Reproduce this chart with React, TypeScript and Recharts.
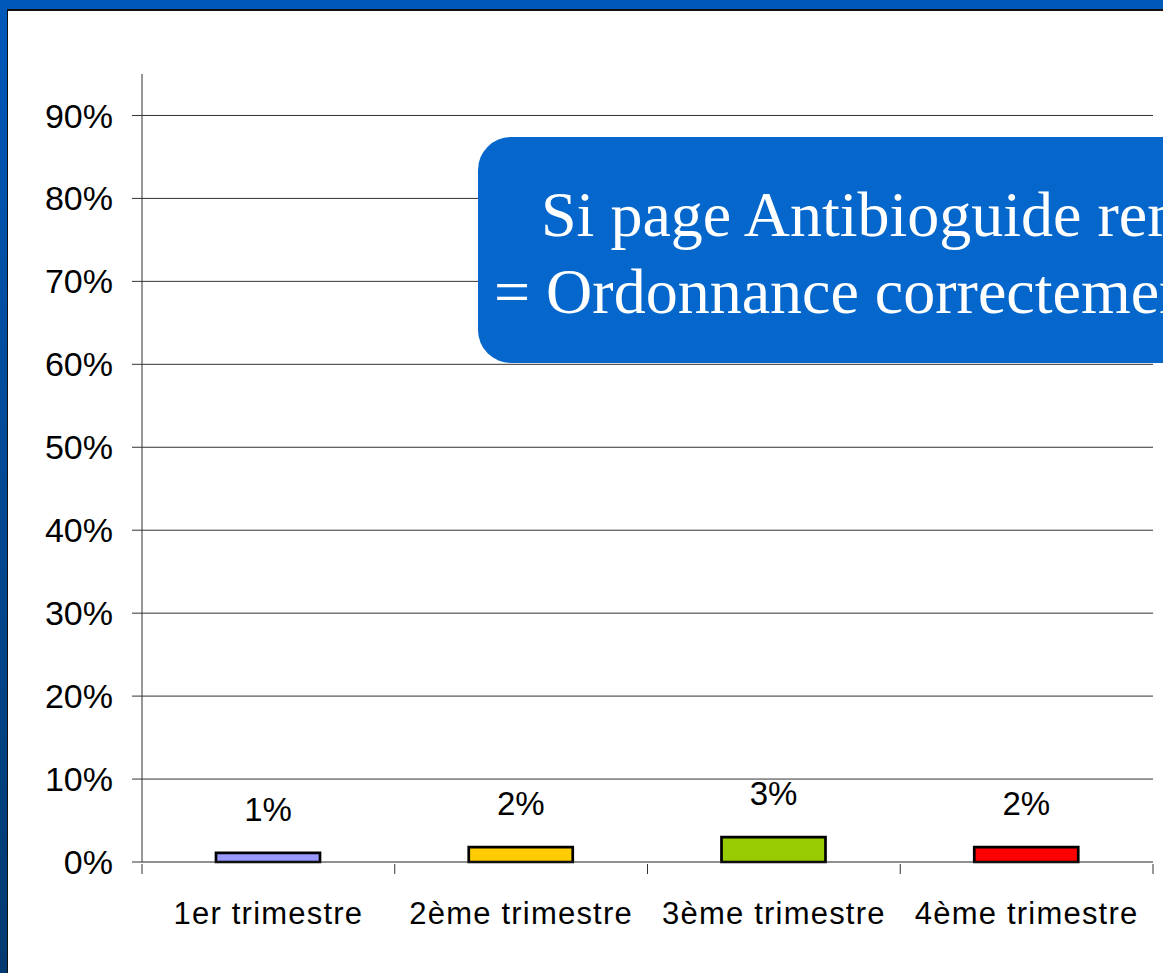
import { Bar, BarChart, CartesianGrid, Cell, LabelList, XAxis, YAxis } from "recharts";

const categories = ["1er trimestre", "2ème trimestre", "3ème trimestre", "4ème trimestre"];
const values = [0.011, 0.018, 0.03, 0.018];
const yTicks = [0, 0.1, 0.2, 0.3, 0.4, 0.5, 0.6, 0.7, 0.8, 0.9];
// category slots on a 0..4 axis: labels sit at the half steps, tick marks at the whole steps
const xTicks = [0, 0.5, 1, 1.5, 2, 2.5, 3, 3.5, 4];
const calloutLines = ["Si page Antibioguide remplie", "= Ordonnance correctement rédigée"];

const barColors = ["#9999ff", "#ffcc00", "#99cc00", "#ff0000"];

const pct = (v: number) => `${Math.round(v * 100)}%`;
const sans = "Liberation Sans, Arial, sans-serif";

function XTick(props: any) {
  const { x, y, payload } = props;
  const v = payload.value as number;
  if (Number.isInteger(v)) {
    return <line x1={x} x2={x} y1={y - 10} y2={y} stroke="#333" />;
  }
  return (
    <text x={x} y={y + 28} dy="0.71em" textAnchor="middle" fill="#000" fontSize={31} letterSpacing={1.2} fontFamily={sans}>
      {categories[Math.floor(v)]}
    </text>
  );
}

export default function App() {
  const data = categories.map((name, i) => ({ name, slot: i + 0.5, value: values[i] }));

  return (
    <div
      style={{
        position: "absolute",
        left: 0,
        top: 0,
        width: 1163,
        height: 973,
        overflow: "hidden",
        background: "linear-gradient(#0058ba, #003a70)",
      }}
    >
      <div
        style={{
          position: "absolute",
          left: 7,
          top: 9,
          width: 1300,
          height: 1100,
          background: "#fff",
          borderTop: "2px solid #111",
          borderLeft: "1.5px solid #111",
        }}
      />
      <div style={{ position: "absolute", left: 0, top: 0 }}>
        <BarChart
          width={1163}
          height={973}
          data={data}
          margin={{ top: 74, right: 10, bottom: 51, left: 42 }}
        >
          <CartesianGrid vertical={false} horizontalValues={yTicks.slice(1)} stroke="#333" />
          <YAxis
            width={100}
            domain={[0, 0.95]}
            ticks={yTicks}
            tickFormatter={pct}
            tickSize={10}
            tickMargin={19}
            axisLine={{ stroke: "#333" }}
            tickLine={{ stroke: "#333" }}
            tick={{ fill: "#000", fontSize: 34, fontFamily: sans }}
          />
          <XAxis
            dataKey="slot"
            type="number"
            domain={[0, 4]}
            ticks={xTicks}
            interval={0}
            allowDataOverflow
            height={60}
            tickSize={10}
            tickLine={false}
            axisLine={{ stroke: "#222" }}
            tick={<XTick />}
          />
          <Bar dataKey="value" barSize={104} stroke="#000" strokeWidth={2.7} isAnimationActive={false}>
            {data.map((d, i) => (
              <Cell key={d.name} fill={barColors[i]} />
            ))}
            <LabelList
              dataKey="value"
              position="top"
              offset={32}
              formatter={(v: number) => pct(v)}
              fill="#000"
              fontSize={33}
              fontFamily={sans}
            />
          </Bar>
        </BarChart>
      </div>
      <svg
        width={1163}
        height={973}
        style={{ position: "absolute", left: 0, top: 0, pointerEvents: "none" }}
      >
        <rect x={478} y={137} width={800} height={226} rx={33} fill="#0567cc" />
        <text x={541} y={236} fill="#fff" fontSize={64} fontFamily="Liberation Serif, Times New Roman, serif">
          {calloutLines[0]}
        </text>
        <text x={494} y={313} fill="#fff" fontSize={64} fontFamily="Liberation Serif, Times New Roman, serif">
          {calloutLines[1]}
        </text>
      </svg>
    </div>
  );
}
